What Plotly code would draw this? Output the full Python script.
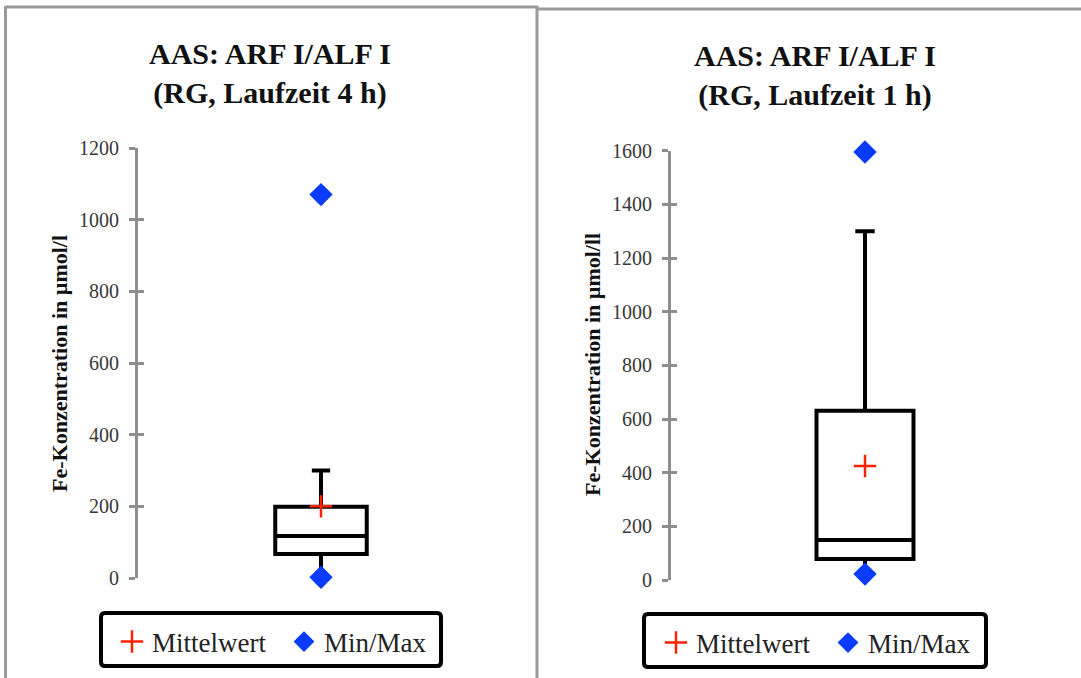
import plotly.graph_objects as go

# ---- data ----
panel_titles = ["AAS: ARF I/ALF I<br>(RG, Laufzeit 4 h)", "AAS: ARF I/ALF I<br>(RG, Laufzeit 1 h)"]
y_titles = ["Fe-Konzentration in µmol/l", "Fe-Konzentration in µmol/ll"]
q1_vals = [67, 78]
median_vals = [117, 149]
q3_vals = [199, 631]
whisker_low = [2, 22]
whisker_high = [300, 1300]
mean_vals = [200, 425]
min_vals = [2, 22]
max_vals = [1070, 1595]
y_ranges = [[0, 1200], [0, 1600]]
legend_names = ["Mittelwert", "Min/Max"]

W, H = 1081, 678
SERIF = "Liberation Serif"
AXIS_GREY = "#8e8e8e"

fig = go.Figure()

x_domains = [[138 / W, 504 / W], [671 / W, 1059 / W]]
y_domains = [[1 - 578 / H, 1 - 148 / H], [1 - 580 / H, 1 - 150.7 / H]]

for i in range(2):
    xa = "x" if i == 0 else "x2"
    ya = "y" if i == 0 else "y2"
    leg = "legend" if i == 0 else "legend2"
    fig.add_trace(go.Box(
        x=[1], q1=[q1_vals[i]], median=[median_vals[i]], q3=[q3_vals[i]],
        lowerfence=[whisker_low[i]], upperfence=[whisker_high[i]],
        width=0.5, whiskerwidth=0.2, boxpoints=False,
        line=dict(color="black", width=4), fillcolor="white",
        showlegend=False, xaxis=xa, yaxis=ya, hoverinfo="skip"))
    fig.add_trace(go.Scatter(
        x=[1], y=[mean_vals[i]], mode="markers", name=legend_names[0],
        marker=dict(symbol="cross-thin", size=16, color="#ff2200",
                    line=dict(color="#ff2200", width=2.5)),
        cliponaxis=False, xaxis=xa, yaxis=ya, legend=leg))
    fig.add_trace(go.Scatter(
        x=[1, 1], y=[min_vals[i], max_vals[i]], mode="markers", name=legend_names[1],
        marker=dict(symbol="diamond", size=18, color="#0a3cff"),
        cliponaxis=False, xaxis=xa, yaxis=ya, legend=leg))

common_y = dict(showgrid=False, zeroline=False, showline=True, linecolor=AXIS_GREY,
                linewidth=3, ticks="outside", ticklen=6, tickwidth=3, tickcolor=AXIS_GREY,
                tickfont=dict(family=SERIF, size=20, color="#383838"),
                ticklabelstandoff=6, automargin=False)
common_x = dict(visible=False, range=[0, 2], showgrid=False, zeroline=False)

fig.update_layout(
    width=W, height=H, margin=dict(l=0, r=0, t=0, b=0, pad=0, autoexpand=False),
    paper_bgcolor="white", plot_bgcolor="white",
    showlegend=True,
    xaxis=dict(domain=x_domains[0], anchor="y", **common_x),
    xaxis2=dict(domain=x_domains[1], anchor="y2", **common_x),
    yaxis=dict(domain=y_domains[0], anchor="x", range=y_ranges[0], dtick=200, **common_y),
    yaxis2=dict(domain=y_domains[1], anchor="x2", range=y_ranges[1], dtick=200, **common_y),
    yaxis3=dict(overlaying="y", anchor="x", range=y_ranges[0], dtick=200, showgrid=False,
                zeroline=False, showline=False, ticks="inside", ticklen=6, tickwidth=3,
                tickcolor=AXIS_GREY, showticklabels=False),
    yaxis4=dict(overlaying="y2", anchor="x2", range=y_ranges[1], dtick=200, showgrid=False,
                zeroline=False, showline=False, ticks="inside", ticklen=6, tickwidth=3,
                tickcolor=AXIS_GREY, showticklabels=False),
    legend=dict(orientation="h", x=112 / W, xanchor="left", y=1 - 642 / H, yanchor="middle",
                font=dict(family=SERIF, size=27, color="#222222"), bgcolor="rgba(0,0,0,0)",
                borderwidth=0, entrywidth=127, itemwidth=30),
    legend2=dict(orientation="h", x=656 / W, xanchor="left", y=1 - 643 / H, yanchor="middle",
                 font=dict(family=SERIF, size=27, color="#222222"), bgcolor="rgba(0,0,0,0)",
                 borderwidth=0, entrywidth=127, itemwidth=30),
)

# dummy traces on overlay axes so the tick-only axes render
fig.add_trace(go.Scatter(x=[None], y=[None], xaxis="x", yaxis="y3", showlegend=False, hoverinfo="skip"))
fig.add_trace(go.Scatter(x=[None], y=[None], xaxis="x2", yaxis="y4", showlegend=False, hoverinfo="skip"))

# titles
title_x = [270 / W, 815 / W]
title_y = [1 - 73 / H, 1 - 75 / H]
for i in range(2):
    fig.add_annotation(text="<b>" + panel_titles[i] + "</b>", x=title_x[i], y=title_y[i],
                       xref="paper", yref="paper", xanchor="center", yanchor="middle",
                       showarrow=False, font=dict(family=SERIF, size=30, color="#111111"))
# y-axis titles
yt_x = [59 / W, 592 / W]
yt_y = [1 - 364 / H, 1 - 365 / H]
for i in range(2):
    fig.add_annotation(text="<b>" + y_titles[i] + "</b>", x=yt_x[i], y=yt_y[i],
                       xref="paper", yref="paper", xanchor="center", yanchor="middle",
                       textangle=-90, showarrow=False,
                       font=dict(family=SERIF, size=22, color="#111111"))

def rounded_rect(x0, y0, x1, y1, r=4):
    # pixel coords (top-left origin) -> paper path
    def px(x): return x / W
    def py(y): return 1 - y / H
    return (f"M {px(x0 + r)} {py(y0)} L {px(x1 - r)} {py(y0)} Q {px(x1)} {py(y0)} {px(x1)} {py(y0 + r)} "
            f"L {px(x1)} {py(y1 - r)} Q {px(x1)} {py(y1)} {px(x1 - r)} {py(y1)} "
            f"L {px(x0 + r)} {py(y1)} Q {px(x0)} {py(y1)} {px(x0)} {py(y1 - r)} "
            f"L {px(x0)} {py(y0 + r)} Q {px(x0)} {py(y0)} {px(x0 + r)} {py(y0)} Z")

shapes = [
    dict(type="path", xref="paper", yref="paper", path=rounded_rect(101, 613, 441, 666),
         line=dict(color="black", width=4), layer="below"),
    dict(type="path", xref="paper", yref="paper", path=rounded_rect(644, 614, 986, 667),
         line=dict(color="black", width=4), layer="below"),
    # panel frames
    dict(type="line", xref="paper", yref="paper", x0=5.5 / W, x1=5.5 / W, y0=0, y1=1 - 6 / H,
         line=dict(color="#9a9a9a", width=3)),
    dict(type="line", xref="paper", yref="paper", x0=5.5 / W, x1=538 / W, y0=1 - 7 / H, y1=1 - 7 / H,
         line=dict(color="#9a9a9a", width=3)),
    dict(type="line", xref="paper", yref="paper", x0=537 / W, x1=537 / W, y0=0, y1=1 - 6 / H,
         line=dict(color="#9a9a9a", width=3)),
    dict(type="line", xref="paper", yref="paper", x0=538 / W, x1=1, y0=1 - 9 / H, y1=1 - 9 / H,
         line=dict(color="#9a9a9a", width=3)),
]
fig.update_layout(shapes=shapes)

fig.write_html("out.html", config={"displayModeBar": False},
               post_script="document.body.style.margin='0';document.body.style.overflow='hidden';")
